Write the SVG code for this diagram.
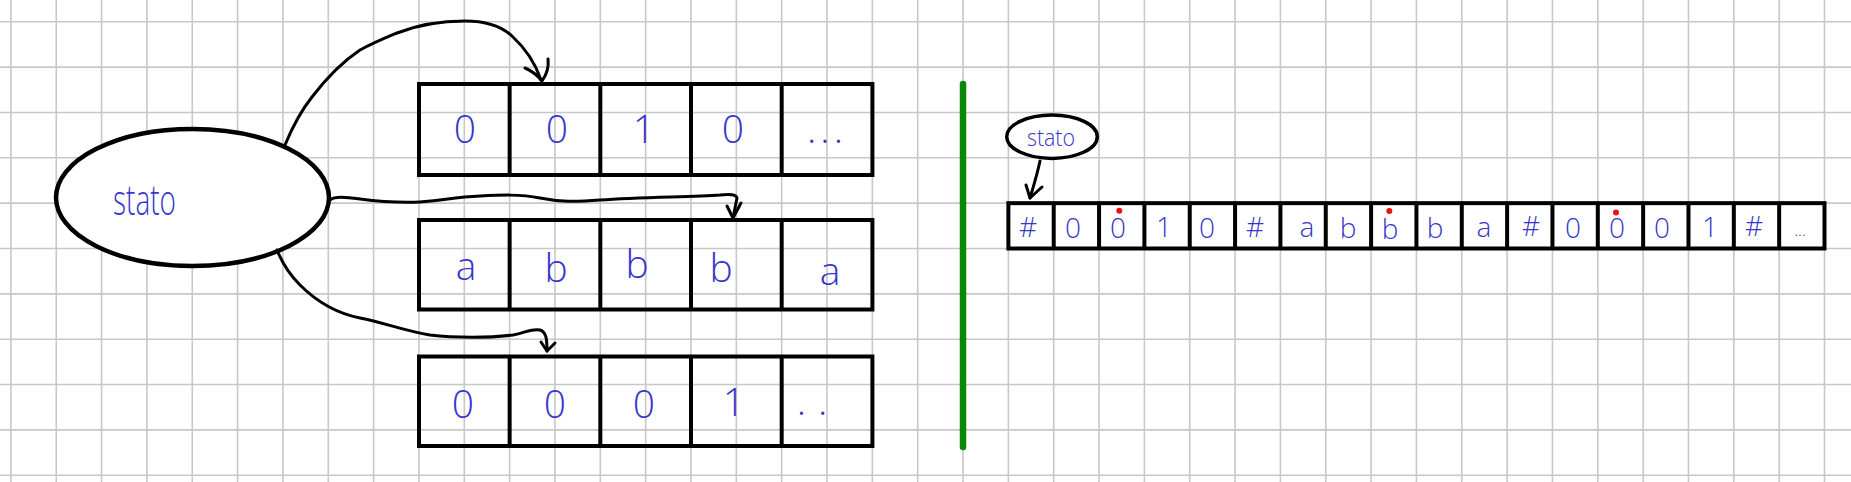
<svg xmlns="http://www.w3.org/2000/svg" width="1851" height="482" viewBox="0 0 1851 482">
<defs>
<style>
.grid{stroke:#c8c8c8;stroke-width:1.6;fill:none}
.box{fill:none;stroke:#000;stroke-width:4;stroke-linejoin:miter}
.hand{font-family:"Open Sans","Liberation Sans",sans-serif;font-weight:300;fill:#3636cc;text-anchor:middle}
.big{font-size:39px}
.small{font-size:28px}
.conn{fill:none;stroke:#000;stroke-width:3;stroke-linecap:round;stroke-linejoin:round}
.red{fill:#ee1111}
</style>
</defs>
<rect x="0" y="0" width="1851" height="482" fill="#ffffff"/>
<g id="grid">
<path class="grid" d="M10.9,0V482M56.24,0V482M101.58,0V482M146.92,0V482M192.26,0V482M237.6,0V482M282.94,0V482M328.28,0V482M373.62,0V482M418.96,0V482M464.3,0V482M509.64,0V482M554.98,0V482M600.32,0V482M645.66,0V482M691,0V482M736.34,0V482M781.68,0V482M827.02,0V482M872.36,0V482M917.7,0V482M963.04,0V482M1008.38,0V482M1053.72,0V482M1099.06,0V482M1144.4,0V482M1189.74,0V482M1235.08,0V482M1280.42,0V482M1325.76,0V482M1371.1,0V482M1416.44,0V482M1461.78,0V482M1507.12,0V482M1552.46,0V482M1597.8,0V482M1643.14,0V482M1688.48,0V482M1733.82,0V482M1779.16,0V482M1824.5,0V482M0,21.8H1851M0,67.14H1851M0,112.48H1851M0,157.82H1851M0,203.16H1851M0,248.5H1851M0,293.84H1851M0,339.18H1851M0,384.52H1851M0,429.86H1851M0,475.2H1851"/>
</g>
<g id="node-stato">
<ellipse cx="192.5" cy="197.5" rx="136.5" ry="68.5" fill="#fff" stroke="#000" stroke-width="4.5"/>
<text class="hand" x="144.5" y="215" font-size="42" textLength="63" lengthAdjust="spacingAndGlyphs">stato</text>
</g>
<g id="tape-1">
<rect class="box" x="419" y="84" width="453.4" height="91" fill="#fff"/>
<path class="box" d="M509.64,84V175M600.32,84V175M691,84V175M781.68,84V175"/>
<text class="hand big" x="465" y="143">0</text>
<text class="hand big" x="557" y="143">0</text>
<text class="hand big" x="644" y="143">1</text>
<text class="hand big" x="733" y="143">0</text>
<text class="hand big" x="827" y="143" letter-spacing="4">...</text>
</g>
<g id="tape-2">
<rect class="box" x="419" y="220" width="453.4" height="89.5" fill="#fff"/>
<path class="box" d="M509.64,220V309.5M600.32,220V309.5M691,220V309.5M781.68,220V309.5"/>
<text class="hand big" x="466" y="280">a</text>
<text class="hand big" x="556" y="282">b</text>
<text class="hand big" x="637" y="278">b</text>
<text class="hand big" x="721" y="282">b</text>
<text class="hand big" x="830" y="285">a</text>
</g>
<g id="tape-3">
<rect class="box" x="419" y="356.5" width="453.4" height="89.5" fill="#fff"/>
<path class="box" d="M509.64,356.5V446M600.32,356.5V446M691,356.5V446M781.68,356.5V446"/>
<text class="hand big" x="463" y="418">0</text>
<text class="hand big" x="555" y="418">0</text>
<text class="hand big" x="644" y="418">0</text>
<text class="hand big" x="734" y="416">1</text>
<text class="hand big" x="818" y="415" letter-spacing="12">..</text>
</g>
<g id="divider">
<line x1="963" y1="84" x2="963" y2="447" stroke="#0b860b" stroke-width="6.5" stroke-linecap="round"/>
</g>
<g id="node-stato-small">
<ellipse cx="1052" cy="136.7" rx="45.3" ry="21.7" fill="#fff" stroke="#000" stroke-width="3.5"/>
<text class="hand" x="1051" y="146" font-size="24" textLength="48" lengthAdjust="spacingAndGlyphs">stato</text>
</g>
<g id="tape-single">
<rect class="box" x="1008.38" y="203.16" width="816.12" height="45.34" fill="#fff"/>
<path class="box" d="M1053.72,203.16V248.5M1099.06,203.16V248.5M1144.4,203.16V248.5M1189.74,203.16V248.5M1235.08,203.16V248.5M1280.42,203.16V248.5M1325.76,203.16V248.5M1371.1,203.16V248.5M1416.44,203.16V248.5M1461.78,203.16V248.5M1507.12,203.16V248.5M1552.46,203.16V248.5M1597.8,203.16V248.5M1643.14,203.16V248.5M1688.48,203.16V248.5M1733.82,203.16V248.5M1779.16,203.16V248.5"/>
<text class="hand small" x="1028" y="237">#</text>
<text class="hand small" x="1073" y="238">0</text>
<text class="hand small" x="1118" y="238">0</text>
<text class="hand small" x="1164" y="237">1</text>
<text class="hand small" x="1207" y="238">0</text>
<text class="hand small" x="1255" y="237">#</text>
<text class="hand small" x="1307" y="237">a</text>
<text class="hand small" x="1348" y="238">b</text>
<text class="hand small" x="1390" y="239">b</text>
<text class="hand small" x="1435" y="238">b</text>
<text class="hand small" x="1484" y="237">a</text>
<text class="hand small" x="1531" y="236">#</text>
<text class="hand small" x="1573" y="238">0</text>
<text class="hand small" x="1617" y="238">0</text>
<text class="hand small" x="1662" y="238">0</text>
<text class="hand small" x="1710" y="237">1</text>
<text class="hand small" x="1754" y="236">#</text>
<text class="hand" x="1800" y="236" font-size="16">...</text>
<circle class="red" cx="1119.3" cy="210.7" r="3"/>
<circle class="red" cx="1389.3" cy="211" r="3"/>
<circle class="red" cx="1616" cy="212.5" r="3"/>
</g>
<g id="connectors">
<path class="conn" d="M285,145 C292,128 300,112 312,97 C325,80 342,62 360,50 C375,42 385,38 397,33 C420,24 445,21 465,21 C485,21 500,25 512,36 C525,48 535,62 541,80"/>
<path class="conn" d="M525,68 C532,71 538,76 542,81 C547,74 549,67 548,59"/>
<path class="conn" d="M330,200 C335,196 345,197 360,199 C375,201 395,203 420,202 C440,201 455,197 480,196 C500,195 520,194 540,198 C560,202 575,202 600,200 C640,197 690,197 720,195 C730,194 736,194 737,198 L733,218"/>
<path class="conn" d="M727,206 L733,218 L741,203"/>
<path class="conn" d="M277,250 C283,265 290,275 300,285 C312,297 330,312 360,318 C385,323 405,331 430,335 C455,338 490,338 513,335 C525,333 532,328 540,330 C546,332 547,338 547,351"/>
<path class="conn" d="M541,342 L547,351 L555,343"/>
<path class="conn" d="M1040,161 C1037,175 1033,188 1030,198"/>
<path class="conn" d="M1026,185 L1030,198 L1042,187"/>
</g>
</svg>
